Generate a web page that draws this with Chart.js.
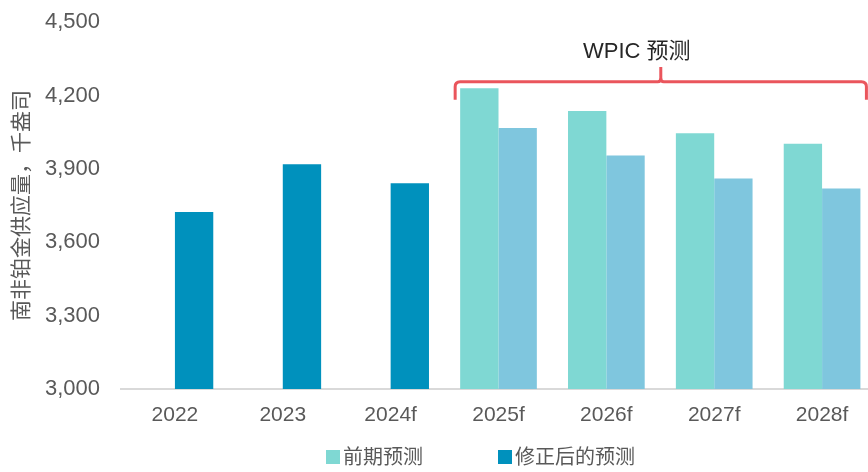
<!DOCTYPE html>
<html>
<head>
<meta charset="utf-8">
<script src="https://cdn.jsdelivr.net/npm/chart.js@4.4.1/dist/chart.umd.min.js"></script>
<style>
	html, body { margin: 0; padding: 0; background: #fff; }
	#wrap { position: relative; width: 868px; height: 472px; overflow: hidden; }
	#chart { position: absolute; left: 0; top: -12px; }
	#legend {
		position: absolute; left: 326px; top: 447px;
		display: flex; align-items: center;
		font-family: "Liberation Sans", "Noto Sans CJK SC", sans-serif;
		font-size: 20px; line-height: 20px; color: #595959;
	}
	.item { display: flex; align-items: center; margin-right: 75px; }
	.box { width: 14px; height: 14px; margin-right: 3px; }
</style>
</head>
<body>
<div id="wrap">
	<canvas id="chart" width="876" height="484"></canvas>
	<div id="legend"></div>
</div>
<script>
const years = ['2022', '2023', '2024f', '2025f', '2026f', '2027f', '2028f'];
const priorForecast = [null, null, null, 4230, 4137, 4046, 4003];
const revisedForecast = [3724, 3919, 3841, 4067, 3955, 3861, 3820];
const seriesNames = ['前期预测', '修正后的预测'];
const yTicks = [3000, 3300, 3600, 3900, 4200, 4500];
const wpicLabel = 'WPIC 预测';
const wpicStart = 3; // index of first WPIC forecast year

const TEAL = '#7fd8d3';
const BLUE = '#0091bd';
const LIGHT_BLUE = '#7fc6de';
const FONT = '"Liberation Sans", "Noto Sans CJK SC", sans-serif';

// bracket over the WPIC forecast years
const bracketPlugin = {
	id: 'bracket',
	afterDatasetsDraw(chart) {
		const ctx = chart.ctx;
		const y = chart.scales.y;
		const first = chart.getDatasetMeta(0).data[wpicStart];
		const last = chart.getDatasetMeta(1).data[years.length - 1];
		const left = first.x - first.width / 2 - 5;
		const right = last.x + last.width / 2 + 6;
		const mid = (left + right) / 2;
		const lineY = y.getPixelForValue(4256);
		const endY = y.getPixelForValue(4183);
		const tipY = y.getPixelForValue(4317);
		const r = 5;

		ctx.save();
		ctx.strokeStyle = '#ea555c';
		ctx.lineWidth = 3;
		ctx.lineJoin = 'round';
		ctx.beginPath();
		ctx.moveTo(left, endY);
		ctx.lineTo(left, lineY + r);
		ctx.quadraticCurveTo(left, lineY, left + r, lineY);
		ctx.lineTo(mid - 3, lineY);
		ctx.quadraticCurveTo(mid, lineY, mid, lineY - 4);
		ctx.lineTo(mid, tipY);
		ctx.moveTo(mid, lineY - 4);
		ctx.quadraticCurveTo(mid, lineY, mid + 3, lineY);
		ctx.lineTo(right - r, lineY);
		ctx.quadraticCurveTo(right, lineY, right, lineY + r);
		ctx.lineTo(right, endY);
		ctx.stroke();

		ctx.fillStyle = '#262626';
		ctx.font = '22px ' + FONT;
		ctx.textAlign = 'center';
		ctx.textBaseline = 'middle';
		ctx.fillText(wpicLabel, mid - 24, y.getPixelForValue(4378));
		ctx.restore();
	}
};

const chart = new Chart(document.getElementById('chart'), {
	type: 'bar',
	data: {
		labels: years,
		datasets: [{
			label: seriesNames[0],
			data: priorForecast,
			backgroundColor: TEAL
		}, {
			label: seriesNames[1],
			data: revisedForecast,
			backgroundColor: revisedForecast.map((v, i) => i < wpicStart ? BLUE : LIGHT_BLUE),
			legendColor: BLUE
		}]
	},
	options: {
		responsive: false,
		animation: false,
		layout: { padding: { top: 8, right: 0, bottom: 43, left: 0 } },
		datasets: {
			bar: { barPercentage: 1, categoryPercentage: 0.711 }
		},
		scales: {
			x: {
				grid: { display: false, drawTicks: false },
				border: { display: true, color: '#d9d9d9', width: 2 },
				ticks: { color: '#595959', font: { family: FONT, size: 21 }, padding: 14, maxRotation: 0 },
				afterFit(scale) { scale.height = 40; }
			},
			y: {
				min: 3000,
				max: 4500,
				afterBuildTicks(scale) { scale.ticks = yTicks.map(v => ({ value: v })); },
				grid: { display: false, drawTicks: false },
				border: { display: false },
				ticks: {
					color: '#595959',
					font: { family: FONT, size: 22 },
					padding: 21,
					callback: v => v.toLocaleString('en-US')
				},
				title: {
					display: true,
					text: '南非铂金供应量，千盎司',
					color: '#595959',
					font: { family: FONT, size: 21 },
					padding: { top: 10, bottom: 0 }
				},
				afterFit(scale) { scale.width = 121; }
			}
		},
		plugins: {
			legend: { display: false },
			tooltip: { enabled: false }
		}
	},
	plugins: [bracketPlugin]
});

const legend = document.getElementById('legend');
chart.data.datasets.forEach(ds => {
	const item = document.createElement('div');
	item.className = 'item';
	item.innerHTML = `<span class="box" style="background:${ds.legendColor || ds.backgroundColor}"></span><span>${ds.label}</span>`;
	legend.appendChild(item);
});
</script>
</body>
</html>
